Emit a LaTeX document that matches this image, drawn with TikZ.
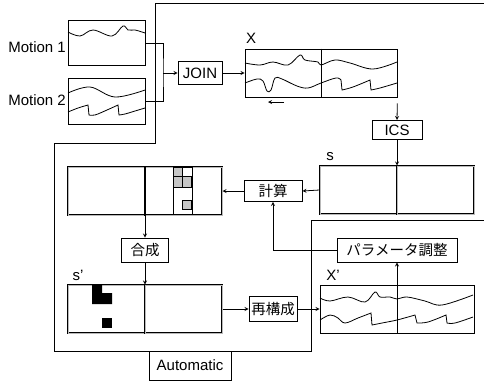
\documentclass[tikz,border=0pt]{standalone}
\usepackage{fontspec}
\setmainfont{Liberation Sans}
\newfontfamily\jpfont{Noto Sans CJK JP}
\usepackage{tikz}
\usetikzlibrary{arrows, positioning}

\begin{document}
\begin{tikzpicture}[
    x=1pt, y=-1pt,
    font=\fontsize{15}{18}\selectfont,
    box/.style={draw, rectangle, line width=0.9pt, inner sep=2pt, align=center},
    jbox/.style={box, font={\jpfont\fontsize{14.5}{17}\selectfont}},
    panel/.style={draw, rectangle, line width=0.9pt, minimum width=154pt, minimum height=48pt},
    dpanel/.style={panel, draw=black, line width=1pt, double=gray!55, double distance=0.8pt},
    dline/.style={line width=1pt, double=gray!55, double distance=0.8pt},
    lbl/.style={inner sep=0pt},
    wave/.style={line width=0.8pt},
    arrow/.style={line width=0.8pt, ->, >=stealth},
    cell/.style={draw, line width=0.6pt, fill=gray!45}
]
\useasboundingbox (0,0) rectangle (484,384);

\draw[line width=0.9pt] (484,3) -- (155,3) -- (155,143) -- (54,143) -- (54,351) -- (311,351) -- (311,220) -- (484,220);

\node[panel, minimum width=77pt, minimum height=45pt] (m1) at (106.5,43) {};
\node[panel, minimum width=77pt, minimum height=46pt] (m2) at (106.5,101) {};
\node[lbl, anchor=east] (m1l) at (66,47) {Motion 1};
\node[lbl, anchor=east] (m2l) at (66,100) {Motion 2};
\node[box, minimum width=44pt, minimum height=23pt] (join) at (200,73) {JOIN};
\node[panel, minimum width=152pt] (xb) at (321,73) {};
\node[lbl] (xl) at (251,38) {X};
\node[box, minimum width=50pt, minimum height=19pt] (ics) at (397,130) {ICS};
\node[dpanel] (sb) at (397,190) {};
\node[lbl] (sl) at (330,157) {s};
\node[jbox, minimum width=58pt, minimum height=21pt] (calc) at (273,191) {計算};
\node[dpanel] (lb) at (145,191) {};
\node[jbox, minimum width=120pt, minimum height=24pt] (para) at (397,250) {パラメータ調整};
\node[jbox, minimum width=47pt, minimum height=24pt] (gs) at (145,250) {合成};
\node[dpanel] (sp) at (145,309) {};
\node[lbl] (spl) at (78,275) {s'};
\node[jbox, minimum width=48pt, minimum height=25pt] (rc) at (273,309) {再構成};
\node[panel] (xp) at (397,309) {};
\node[lbl] (xpl) at (333,275) {X'};
\node[box, fill=white, minimum width=82pt, minimum height=29pt] (auto) at (190,365.5) {Automatic};

\draw[line width=0.9pt] (xb.north) -- (xb.south);
\draw[line width=0.9pt] (xp.north) -- (xp.south);
\draw[dline] (sb.north) -- (sb.south);
\draw[line width=1.6pt] (lb.north) -- (lb.south);
\draw[dline] (sp.north) -- (sp.south);

\draw[line width=0.8pt] (173,167) -- (173,215) (192,167) -- (192,215) (173,187) -- (192,187);
\draw[line width=0.6pt] (182,167) rectangle (192,176);
\draw[cell] (173,167) rectangle (182,176);
\draw[cell] (173,176) rectangle (182,187);
\draw[cell] (182,176) rectangle (191,187);
\draw[cell] (182,200) rectangle (191,209);

\fill (92,285) -- (102,285) -- (102,293) -- (112,293) -- (112,304) -- (92,304) -- cycle;
\fill (102,318) rectangle (112,328);

\draw[wave] plot[smooth, tension=0.6] coordinates {(68,32) (80,36) (93,30) (112,36) (123,26) (128,30) (135,30) (142,32) (145,33)};
\draw[wave] plot[smooth, tension=0.6] coordinates {(68,93) (90,87) (115,97) (145,90)};
\draw[wave] plot[smooth, tension=0.6] coordinates {(68,112) (78,108) (88,105)}
    -- plot[smooth, tension=0.6] coordinates {(89,115) (95,115) (107,110) (118,105)}
    -- plot[smooth, tension=0.6] coordinates {(119,115) (125,114) (135,111) (145,108)};

\draw[wave] plot[smooth, tension=0.6] coordinates {(245,63) (260,65) (273,62) (288,65) (300,55) (305,60) (318,62) (321,65) (335,60) (350,63) (373,69) (397,62)};
\draw[wave] plot[smooth, tension=0.6] coordinates {(245,83) (257,79) (263,81) (267,91) (271,90) (275,78) (282,79) (297,86) (308,88) (321,83) (336,78) (341,80)}
    -- plot[smooth, tension=0.6] coordinates {(342,90) (353,87) (370,80)}
    -- plot[smooth, tension=0.6] coordinates {(371,90) (380,88) (397,83)};

\draw[wave] plot[smooth, tension=0.6] coordinates {(320,298) (330,301) (348,297) (365,302) (375,292) (380,297) (390,297) (397,299) (407,297) (425,301) (442,305) (473,295)};
\draw[wave] plot[smooth, tension=0.6] coordinates {(320,320) (330,315) (338,318) (345,323) (358,318) (371,313)}
    -- plot[smooth, tension=0.6] coordinates {(372,325) (382,323) (397,320) (415,315)}
    -- plot[smooth, tension=0.6] coordinates {(417,323) (428,322) (446,315)}
    -- plot[smooth, tension=0.6] coordinates {(447,323) (455,323) (473,317)};

\coordinate (mrg) at (163,73);
\coordinate (dirs) at (284,102);
\coordinate (dire) at (268,102);

\draw[line width=0.8pt] (m1.east) -| (mrg) |- (m2.east);
\draw[arrow] (mrg) -- (join.west);
\draw[arrow] (join.east) -- (xb.west);
\draw[arrow] (dirs) -- (dire);
\draw[arrow, shorten <=6pt] (xb.south east) -- (ics.north);
\draw[arrow] (ics.south) -- (sb.north);
\draw[arrow] (sb.west) -- (calc.east);
\draw[arrow] (calc.west) -- (lb.east);
\draw[arrow] (para.west) -| (calc.south);
\draw[arrow] (lb.south) -- (gs.north);
\draw[arrow] (gs.south) -- (sp.north);
\draw[arrow] (sp.east) -- (rc.west);
\draw[arrow] (rc.east) -- (xp.west);
\draw[arrow] (xp.north) -- (para.south);

\end{tikzpicture}
\end{document}
